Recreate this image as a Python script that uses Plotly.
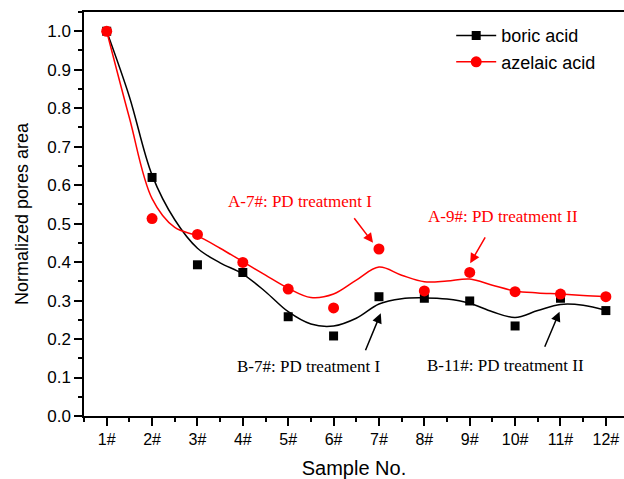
import plotly.graph_objects as go

# ---- data ----
samples = [1, 2, 3, 4, 5, 6, 7, 8, 9, 10, 11, 12]
sample_labels = ["1#", "2#", "3#", "4#", "5#", "6#", "7#", "8#", "9#", "10#", "11#", "12#"]
boric = [1.0, 0.620, 0.393, 0.373, 0.258, 0.208, 0.310, 0.306, 0.299, 0.234, 0.306, 0.274]
azelaic = [1.0, 0.513, 0.472, 0.399, 0.330, 0.281, 0.434, 0.325, 0.373, 0.323, 0.317, 0.310]

# smoothed-curve values at half-sample steps
curve_x = [1, 1.5, 2, 2.5, 3, 3.5, 4, 4.5, 5, 5.5, 6, 6.5, 7, 7.5, 8, 8.5, 9, 9.5, 10, 10.5, 11, 11.5, 12]
boric_curve = [1.0, 0.83, 0.626, 0.51, 0.436, 0.398, 0.369, 0.323, 0.271, 0.239, 0.234, 0.254,
               0.291, 0.305, 0.307, 0.304, 0.293, 0.271, 0.256, 0.274, 0.290, 0.288, 0.275]
azelaic_curve = [1.0, 0.775, 0.565, 0.49, 0.468, 0.436, 0.401, 0.366, 0.332, 0.308, 0.317, 0.353,
                 0.387, 0.366, 0.349, 0.351, 0.356, 0.340, 0.325, 0.320, 0.317, 0.313, 0.310]

y_ticks = [0.0, 0.1, 0.2, 0.3, 0.4, 0.5, 0.6, 0.7, 0.8, 0.9, 1.0]

RED = "#ff0000"
BLACK = "#000000"
SANS = "Arial, Liberation Sans, sans-serif"
SERIF = "Times New Roman, Liberation Serif, serif"

fig = go.Figure()

# smoothed curves
fig.add_trace(go.Scatter(x=curve_x, y=boric_curve, mode="lines", line=dict(color=BLACK, width=1.5, shape="spline", smoothing=1.0),
                         showlegend=False, hoverinfo="skip"))
fig.add_trace(go.Scatter(x=curve_x, y=azelaic_curve, mode="lines", line=dict(color=RED, width=1.5, shape="spline", smoothing=1.0),
                         showlegend=False, hoverinfo="skip"))
# data points
fig.add_trace(go.Scatter(x=samples, y=boric, mode="markers", marker=dict(symbol="square", size=9, color=BLACK),
                         showlegend=False))
fig.add_trace(go.Scatter(x=samples, y=azelaic, mode="markers", marker=dict(symbol="circle", size=11, color=RED),
                         showlegend=False))
# legend entries
fig.add_trace(go.Scatter(x=[None], y=[None], mode="lines+markers", name="boric acid",
                         line=dict(color=BLACK, width=1.5), marker=dict(symbol="square", size=9, color=BLACK)))
fig.add_trace(go.Scatter(x=[None], y=[None], mode="lines+markers", name="azelaic acid",
                         line=dict(color=RED, width=1.5), marker=dict(symbol="circle", size=11, color=RED)))

# annotations: text
texts = [
    ("A-7#: PD treatment I", 5.25, 0.557, RED),
    ("A-9#: PD treatment II", 9.74, 0.518, RED),
    ("B-7#: PD treatment I", 5.44, 0.128, BLACK),
    ("B-11#: PD treatment II", 9.78, 0.130, BLACK),
]
for t, x, y, c in texts:
    fig.add_annotation(x=x, y=y, xref="x", yref="y", text=t, showarrow=False,
                       font=dict(family=SERIF, size=17, color=c))

# annotations: arrows (tail -> head)
arrows = [
    (6.43, 0.518, 6.87, 0.450, RED),
    (9.36, 0.468, 9.01, 0.397, RED),
    (6.69, 0.167, 7.04, 0.267, BLACK),
    (10.64, 0.176, 10.98, 0.271, BLACK),
]
for ax, ay, x, y, c in arrows:
    fig.add_annotation(x=x, y=y, ax=ax, ay=ay, xref="x", yref="y", axref="x", ayref="y",
                       text="", showarrow=True, arrowhead=2, arrowsize=1.3, arrowwidth=1.5,
                       arrowcolor=c, standoff=0, startstandoff=0)

fig.update_layout(
    width=624, height=479,
    margin=dict(l=84, r=0, t=12, b=63, autoexpand=False),
    paper_bgcolor="white", plot_bgcolor="white",
    font=dict(family=SANS, color=BLACK),
    legend=dict(x=0.68, y=0.987, xanchor="left", yanchor="top", bgcolor="rgba(0,0,0,0)",
                font=dict(family=SANS, size=18, color=BLACK), tracegroupgap=0, itemwidth=40),
    showlegend=True,
)
fig.update_xaxes(
    range=[0.5, 12.4], tickmode="array", tickvals=samples, ticktext=sample_labels, automargin=False,
    showgrid=False, zeroline=False, showline=True, linecolor=BLACK, linewidth=1.5, mirror=True,
    ticks="outside", ticklen=8, tickwidth=1.5, tickcolor=BLACK,
    tickfont=dict(family=SANS, size=16, color=BLACK),
    minor=dict(ticks="outside", ticklen=4, tickwidth=1.5, tickcolor=BLACK, dtick=0.5, tick0=0.5),
    title=dict(text="Sample No.", font=dict(family=SANS, size=20, color=BLACK), standoff=18),
)
fig.update_yaxes(
    range=[0, 1.05], tickmode="array", tickvals=y_ticks, ticktext=[f"{v:.1f}" for v in y_ticks], automargin=False,
    showgrid=False, zeroline=False, showline=True, linecolor=BLACK, linewidth=1.5, mirror=False,
    ticks="outside", ticklen=8, tickwidth=1.5, tickcolor=BLACK,
    tickfont=dict(family=SANS, size=17, color=BLACK),
    minor=dict(ticks="outside", ticklen=4, tickwidth=1.5, tickcolor=BLACK, dtick=0.05, tick0=0),
    title=dict(text="Normalized pores area", font=dict(family=SANS, size=18, color=BLACK), standoff=14),
)

fig.write_html("out.html", config={"displayModeBar": False},
               post_script="document.body.style.margin='0';document.body.style.padding='0';")
